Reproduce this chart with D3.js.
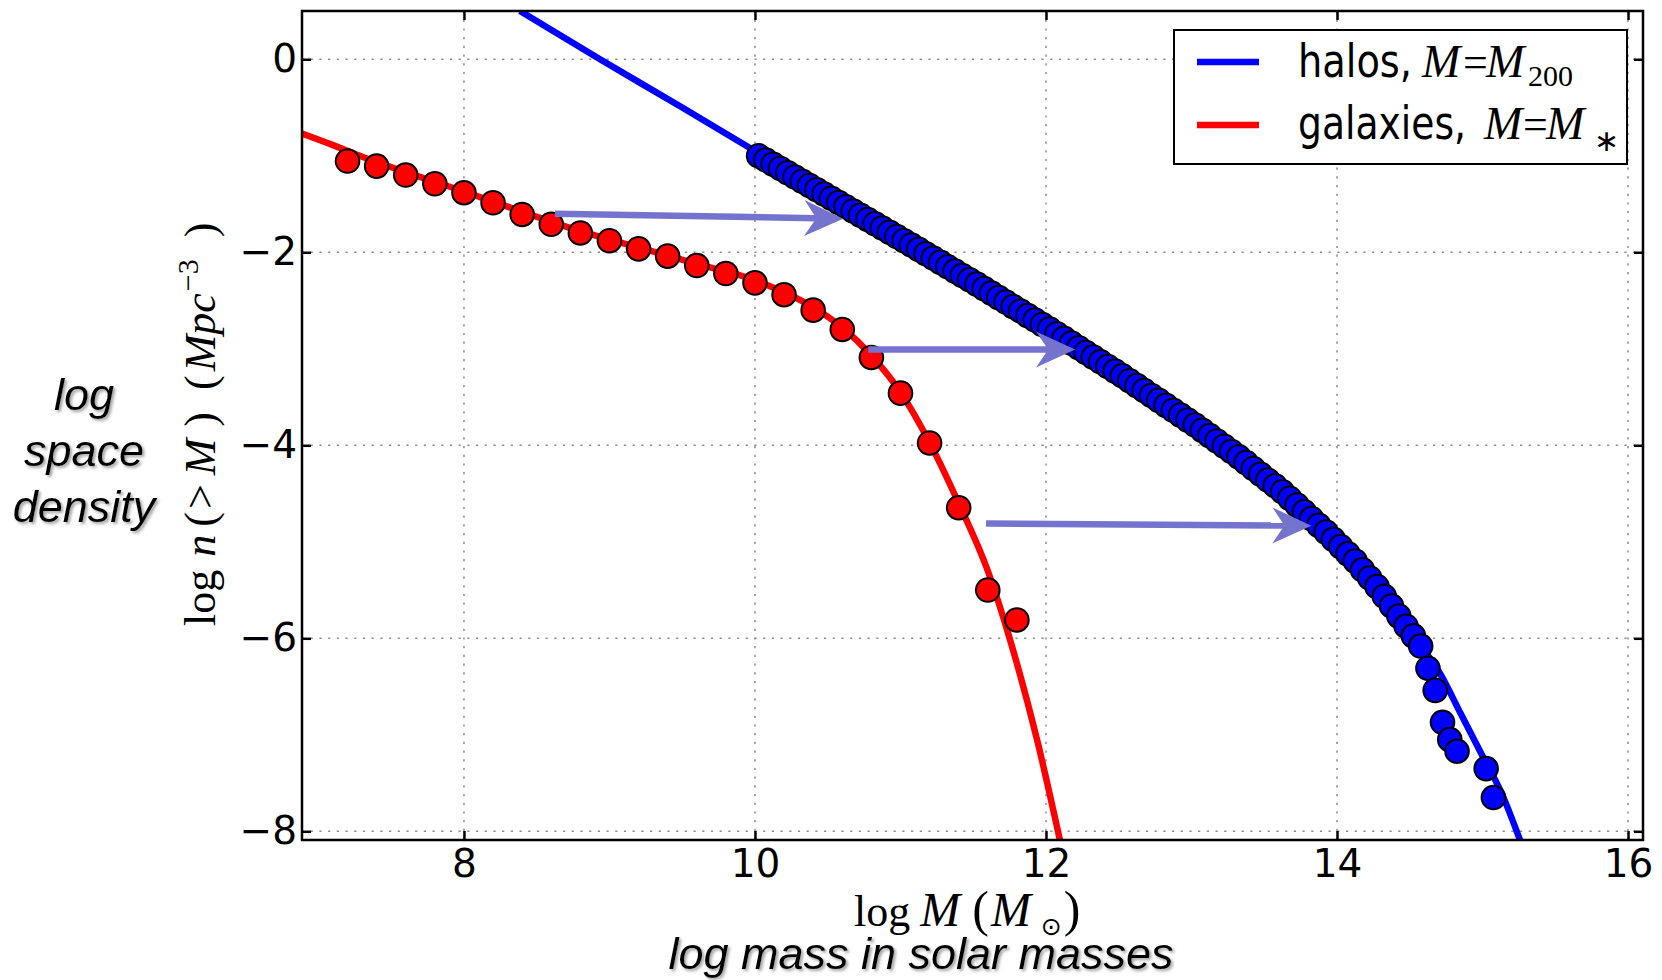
<!DOCTYPE html>
<html><head><meta charset="utf-8">
<script src="https://cdn.jsdelivr.net/npm/d3@7"></script>
<style>body{margin:0;background:#fff}svg{display:block}</style>
</head><body>
<svg id="chart" width="1662" height="980"></svg>
<script>
// ---------------- data ----------------
const xTicks = [8, 10, 12, 14, 16];
const yTicks = [0, -2, -4, -6, -8];

const galaxyX = [7.2,7.4,7.6,7.8,8.0,8.2,8.4,8.6,8.8,9.0,9.2,9.4,9.6,9.8,10.0,10.2,10.4,10.6,10.8,11.0,11.2,11.4,11.6,11.8];
const galaxyY = [-1.055,-1.107,-1.20,-1.29,-1.383,-1.487,-1.608,-1.71,-1.80,-1.88,-1.965,-2.04,-2.137,-2.22,-2.317,-2.44,-2.60,-2.80,-3.09,-3.46,-3.976,-4.647,-5.50,-5.81];

const haloX = [10.025,10.075,10.125,10.175,10.225,10.275,10.325,10.375,10.425,10.475,10.525,10.575,10.625,10.675,10.725,10.775,10.825,10.875,10.925,10.975,
  11.025,11.075,11.125,11.175,11.225,11.275,11.325,11.375,11.425,11.475,11.525,11.575,11.625,11.675,11.725,11.775,11.825,11.875,11.925,11.975,
  12.025,12.075,12.125,12.175,12.225,12.275,12.325,12.375,12.425,12.475,12.525,12.575,12.625,12.675,12.725,12.775,12.825,12.875,12.925,12.975,
  13.025,13.075,13.125,13.175,13.225,13.275,13.325,13.375,13.425,13.475,13.525,13.575,13.625,13.675,13.725,13.775,13.825,13.875,13.925,13.975,
  14.025,14.075,14.125,14.175,14.225,14.275,14.325,14.375,14.425,14.475,14.525,14.575,14.625,14.675,14.725,14.775,14.825,15.025,15.075];
const haloY = [-1.000,-1.044,-1.088,-1.132,-1.176,-1.220,-1.264,-1.308,-1.352,-1.396,-1.440,-1.484,-1.528,-1.572,-1.616,-1.660,-1.704,-1.748,-1.792,-1.836,
  -1.880,-1.925,-1.970,-2.015,-2.060,-2.105,-2.150,-2.195,-2.240,-2.285,-2.330,-2.377,-2.423,-2.470,-2.516,-2.563,-2.609,-2.656,-2.702,-2.749,
  -2.795,-2.844,-2.892,-2.941,-2.989,-3.038,-3.086,-3.135,-3.183,-3.232,-3.280,-3.331,-3.382,-3.433,-3.484,-3.535,-3.586,-3.637,-3.688,-3.739,
  -3.790,-3.845,-3.900,-3.955,-4.010,-4.065,-4.120,-4.180,-4.240,-4.300,-4.360,-4.420,-4.482,-4.550,-4.620,-4.690,-4.760,-4.830,-4.900,-4.975,
  -5.050,-5.125,-5.200,-5.290,-5.375,-5.465,-5.565,-5.665,-5.770,-5.875,-5.975,-6.080,-6.31,-6.54,-6.87,-7.05,-7.17,-7.35,-7.65];

const haloCurveX = [8.385,8.935,9.5,10.0,10.5,11.0,11.5,12.0,12.5,13.0,13.5,13.9,14.1,14.3,14.5,14.71,14.85,15.0,15.13,15.26];
const haloCurveY = [0.5,0.0,-0.5,-0.95,-1.41,-1.86,-2.31,-2.77,-3.26,-3.77,-4.35,-4.87,-5.16,-5.52,-5.93,-6.37,-6.78,-7.22,-7.6,-8.1];

const galaxyCurveX = [6.887,7.1,7.3,7.6,8.0,8.4,8.8,9.2,9.6,10.0,10.4,10.6,10.8,11.0,11.2,11.4,11.6,11.75,11.94,12.1];
const galaxyCurveY = [-0.77,-0.89,-1.01,-1.17,-1.37,-1.58,-1.78,-1.95,-2.12,-2.29,-2.57,-2.78,-3.07,-3.45,-3.97,-4.6,-5.3,-6.0,-7.06,-8.12];

const arrowFromX = [8.625, 10.779, 11.588];
const arrowFromY = [-1.60, -3.008, -4.81];
const arrowToX   = [10.607, 12.2, 13.824];
const arrowToY   = [-1.652, -3.008, -4.834];

const xDomain = [6.887, 16.103];
const yDomain = [-8.09, 0.5];

// ---------------- layout ----------------
const W = 1662, H = 980;
const plot = {left: 302, right: 1643, top: 11, bottom: 840};
const svg = d3.select('#chart');
svg.append('rect').attr('width', W).attr('height', H).attr('fill', '#fff');

const x = d3.scaleLinear().domain(xDomain).range([plot.left, plot.right]);
const y = d3.scaleLinear().domain(yDomain).range([plot.bottom, plot.top]);

const defs = svg.append('defs');
defs.append('clipPath').attr('id', 'clip').append('rect')
  .attr('x', plot.left).attr('y', plot.top)
  .attr('width', plot.right - plot.left).attr('height', plot.bottom - plot.top);
const shadow = defs.append('filter').attr('id', 'shadow')
  .attr('x', '-10%').attr('y', '-20%').attr('width', '130%').attr('height', '150%');
shadow.append('feDropShadow').attr('dx', 2).attr('dy', 2).attr('stdDeviation', 1.5)
  .attr('flood-color', '#777').attr('flood-opacity', 0.7);

// grid
const grid = svg.append('g').attr('stroke', '#8c8c8c').attr('stroke-width', 1.5)
  .attr('stroke-dasharray', '2.2,6.5');
grid.selectAll('.gx').data(xTicks).join('line')
  .attr('x1', d => x(d)).attr('x2', d => x(d)).attr('y1', plot.top).attr('y2', plot.bottom);
grid.selectAll('.gy').data(yTicks).join('line')
  .attr('x1', plot.left).attr('x2', plot.right).attr('y1', d => y(d)).attr('y2', d => y(d));

// curves
const plotArea = svg.append('g').attr('clip-path', 'url(#clip)');
const line = d3.line().x(d => x(d[0])).y(d => y(d[1])).curve(d3.curveMonotoneX);
plotArea.append('path').datum(haloCurveX.map((v, i) => [v, haloCurveY[i]]))
  .attr('d', line).attr('fill', 'none').attr('stroke', '#0000ff').attr('stroke-width', 6.5);
plotArea.append('path').datum(galaxyCurveX.map((v, i) => [v, galaxyCurveY[i]]))
  .attr('d', line).attr('fill', 'none').attr('stroke', '#ff0000').attr('stroke-width', 6.5);

// markers
plotArea.append('g').selectAll('circle').data(galaxyX.map((v, i) => [v, galaxyY[i]])).join('circle')
  .attr('cx', d => x(d[0])).attr('cy', d => y(d[1])).attr('r', 11.8)
  .attr('fill', '#ff0000').attr('stroke', '#000').attr('stroke-width', 2);
plotArea.append('g').selectAll('circle').data(haloX.map((v, i) => [v, haloY[i]])).join('circle')
  .attr('cx', d => x(d[0])).attr('cy', d => y(d[1])).attr('r', 11.8)
  .attr('fill', '#0000ff').attr('stroke', '#000').attr('stroke-width', 2);

// arrows
const arrowColor = '#7474cf';
const arrows = svg.append('g');
arrowFromX.forEach((fx, i) => {
  const x0 = x(fx), y0 = y(arrowFromY[i]), x1 = x(arrowToX[i]), y1 = y(arrowToY[i]);
  const ang = Math.atan2(y1 - y0, x1 - x0);
  const ca = Math.cos(ang), sa = Math.sin(ang);
  const P = (a, b) => [x1 + a * ca - b * sa, y1 + a * sa + b * ca];
  const notch = P(-27, 0);
  arrows.append('line').attr('x1', x0).attr('y1', y0).attr('x2', notch[0]).attr('y2', notch[1])
    .attr('stroke', arrowColor).attr('stroke-width', 6.5);
  arrows.append('path').attr('d', 'M' + [P(0, 0), P(-39, -18), notch, P(-39, 18)].join('L') + 'Z')
    .attr('fill', arrowColor);
});

// axes (ticks inward on all sides)
const tickFont = 'DejaVu Sans, Bitstream Vera Sans, sans-serif';
const axB = svg.append('g').attr('transform', `translate(0,${plot.bottom})`)
  .call(d3.axisBottom(x).tickValues(xTicks).tickSize(-9).tickPadding(9).tickFormat(d3.format('d')));
const axL = svg.append('g').attr('transform', `translate(${plot.left},0)`)
  .call(d3.axisLeft(y).tickValues(yTicks).tickSize(-9).tickPadding(5).tickFormat(d3.format('d')));
const axT = svg.append('g').attr('transform', `translate(0,${plot.top})`)
  .call(d3.axisTop(x).tickValues(xTicks).tickSize(-9).tickFormat(''));
const axR = svg.append('g').attr('transform', `translate(${plot.right},0)`)
  .call(d3.axisRight(y).tickValues(yTicks).tickSize(-9).tickFormat(''));
[axB, axL, axT, axR].forEach(a => {
  a.select('.domain').remove();
  a.selectAll('.tick line').attr('stroke', '#000').attr('stroke-width', 2.5);
  a.selectAll('.tick text').attr('font-family', tickFont).attr('font-size', 39).attr('fill', '#000');
});

// frame
svg.append('rect').attr('x', plot.left).attr('y', plot.top)
  .attr('width', plot.right - plot.left).attr('height', plot.bottom - plot.top)
  .attr('fill', 'none').attr('stroke', '#000').attr('stroke-width', 2.5);

// legend
const mf = 'Liberation Serif, Times New Roman, serif';
const lg = svg.append('g');
lg.append('rect').attr('x', 1174).attr('y', 30).attr('width', 453).attr('height', 134)
  .attr('fill', '#fff').attr('stroke', '#000').attr('stroke-width', 2);
const legendItems = [
  {color: '#0000ff', label: 'halos,', len: 114, lineY: 62, base: 77, mx: [1422, 1463, 1486], sub: '200', subX: 1528, subY: 86, subSize: 30},
  {color: '#ff0000', label: 'galaxies,', len: 168, lineY: 125, base: 139, mx: [1484, 1523, 1546], sub: '\u2217', subX: 1594, subY: 151, subSize: 30}
];
legendItems.forEach(it => {
  lg.append('line').attr('x1', 1197).attr('x2', 1259).attr('y1', it.lineY).attr('y2', it.lineY)
    .attr('stroke', it.color).attr('stroke-width', 6.5);
  lg.append('text').attr('x', 1298).attr('y', it.base).attr('font-family', tickFont).attr('font-size', 46)
    .attr('textLength', it.len).attr('lengthAdjust', 'spacingAndGlyphs').text(it.label);
  lg.append('text').attr('x', it.mx[0]).attr('y', it.base).attr('font-family', mf).attr('font-style', 'italic').attr('font-size', 46).text('M');
  lg.append('text').attr('x', it.mx[1]).attr('y', it.base).attr('font-family', mf).attr('font-size', 44).text('=');
  lg.append('text').attr('x', it.mx[2]).attr('y', it.base).attr('font-family', mf).attr('font-style', 'italic').attr('font-size', 46).text('M');
  lg.append('text').attr('x', it.subX).attr('y', it.subY).attr('font-family', mf).attr('font-size', it.subSize).text(it.sub);
});

// axis labels (math-like)
const serif = mf;
const xl = svg.append('text').attr('x', 854).attr('y', 926).attr('font-family', serif).attr('font-size', 44).attr('fill', '#000');
xl.append('tspan').text('log');
xl.append('tspan').attr('dx', 10).attr('font-style', 'italic').attr('font-size', 48).text('M');
xl.append('tspan').attr('dx', 12).attr('font-size', 50).text('(');
xl.append('tspan').attr('dx', 2).attr('font-style', 'italic').attr('font-size', 48).text('M');
xl.append('tspan').attr('dx', 10).attr('dy', 9).attr('font-size', 25).attr('font-family', 'DejaVu Sans, sans-serif').text('\u2299');
xl.append('tspan').attr('dx', 2).attr('dy', -9).attr('font-size', 50).text(')');

const yl = svg.append('text').attr('transform', 'translate(215,626) rotate(-90)')
  .attr('font-family', serif).attr('font-size', 44).attr('fill', '#000');
yl.append('tspan').text('log');
yl.append('tspan').attr('dx', 13).attr('font-style', 'italic').text('n');
yl.append('tspan').attr('dx', 8).text('(');
yl.append('tspan').attr('dx', 3).text('>');
yl.append('tspan').attr('dx', 9).attr('font-style', 'italic').text('M');
yl.append('tspan').attr('dx', 12).text(')');
yl.append('tspan').attr('dx', 22).text('(');
yl.append('tspan').attr('dx', 4).attr('font-style', 'italic').text('Mpc');
yl.append('tspan').attr('dx', 2).attr('dy', -17).attr('font-size', 30).text('\u22123');
yl.append('tspan').attr('dx', 22).attr('dy', 17).text(')');

// overlay annotations
const ann = svg.append('g').attr('font-family', 'Liberation Sans, Arial, sans-serif').attr('font-style', 'italic')
  .attr('font-size', 45).attr('fill', '#000').attr('filter', 'url(#shadow)').attr('text-anchor', 'middle');
const sideLines = ['log', 'space', 'density'];
sideLines.forEach((t, i) => ann.append('text').attr('x', 84).attr('y', 410 + i * 56).text(t));
ann.append('text').attr('x', 921).attr('y', 969).text('log mass in solar masses');
</script>
</body></html>
